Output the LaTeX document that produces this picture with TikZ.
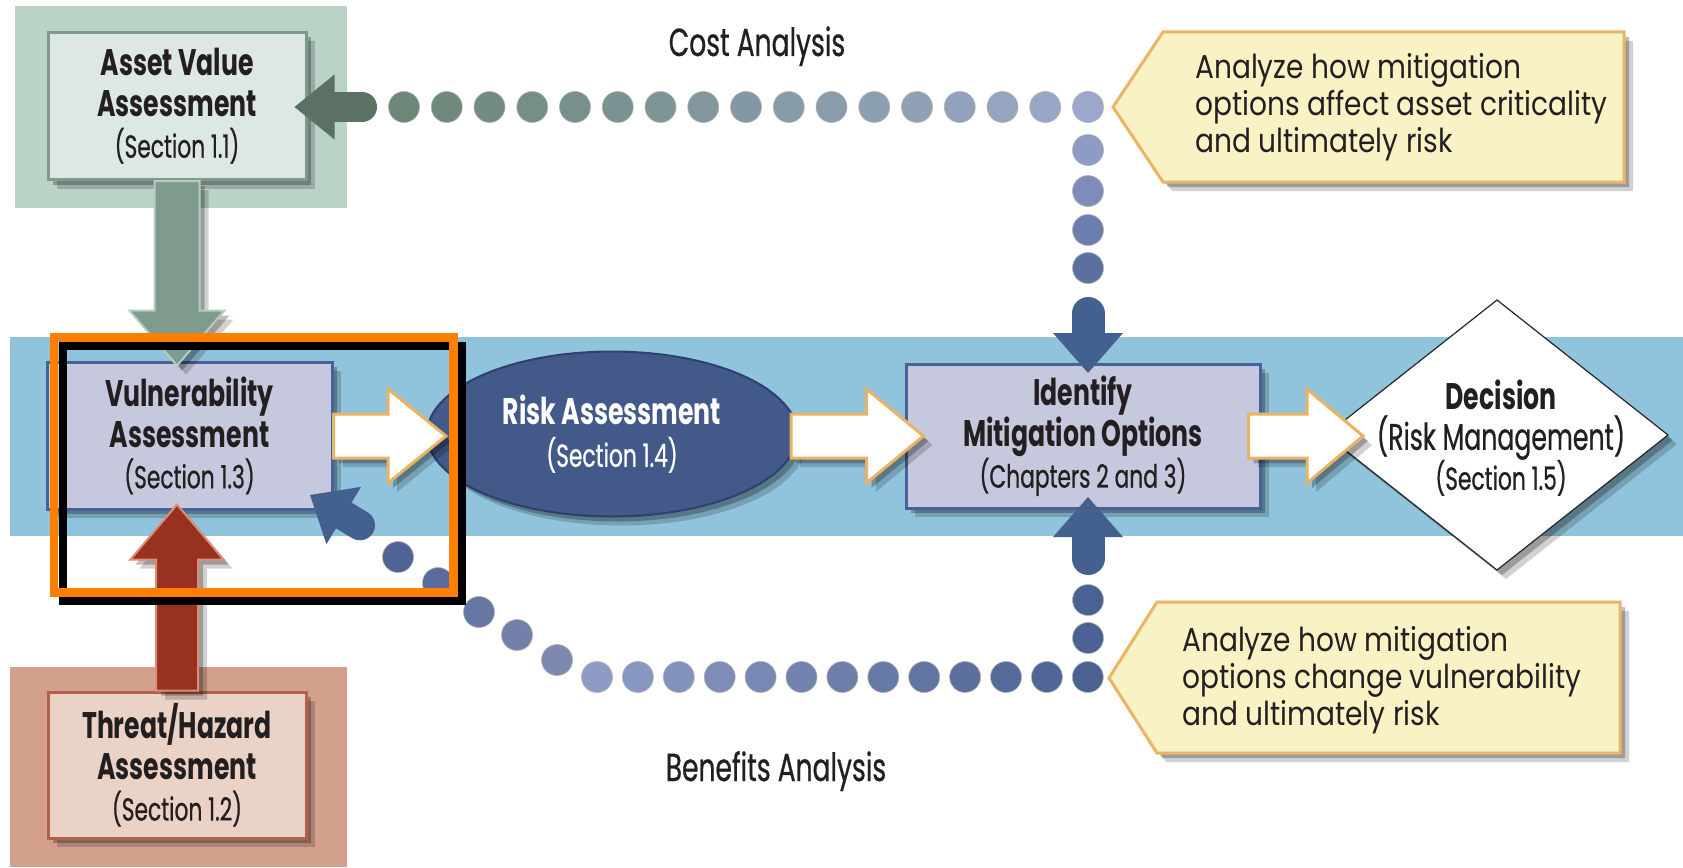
\documentclass[tikz,border=0pt]{standalone}
\usepackage{fontspec}
\setmainfont{Poppins}
\newfontfamily\condfont[FakeStretch=0.68]{Poppins}
\newfontfamily\sectfont[FakeStretch=0.68, FakeBold=0.6]{Poppins}
\newfontfamily\bookfont[FakeStretch=0.85]{Poppins}
\usetikzlibrary{calc,shapes.geometric,shadows}

\definecolor{gbg}{HTML}{B9D4C7}
\definecolor{aboxf}{HTML}{DDE8E6}
\definecolor{aboxd}{HTML}{7D9A8C}
\definecolor{garrf}{HTML}{7F9B8E}
\definecolor{garrd}{HTML}{B3CDC1}
\definecolor{tbg}{HTML}{D2A08C}
\definecolor{tboxf}{HTML}{EBD2C6}
\definecolor{tboxd}{HTML}{B4614B}
\definecolor{rarrf}{HTML}{98311F}
\definecolor{rarrd}{HTML}{D88F74}
\definecolor{band}{HTML}{90C4DC}
\definecolor{vboxf}{HTML}{C6C9DE}
\definecolor{vboxd}{HTML}{45629C}
\definecolor{ellf}{HTML}{43598A}
\definecolor{elld}{HTML}{2E416C}
\definecolor{warrd}{HTML}{EAB263}
\definecolor{callf}{HTML}{F8F2C5}
\definecolor{calld}{HTML}{EBB565}
\definecolor{dblue}{HTML}{44608F}
\definecolor{costg}{HTML}{5A7163}
\definecolor{rowA}{HTML}{6C8878}
\definecolor{rowB}{HTML}{9BA8CC}
\definecolor{vcA}{HTML}{8D9BC5}
\definecolor{vcB}{HTML}{5B6FA1}
\definecolor{brA}{HTML}{8E9CC5}
\definecolor{brB}{HTML}{4A6192}
\definecolor{dgA}{HTML}{4F6396}
\definecolor{dgB}{HTML}{7D89B0}
\definecolor{frameorange}{HTML}{FF8000}
\definecolor{txt}{HTML}{231F20}

\tikzset{
  shad/.style={drop shadow={shadow xshift=5pt, shadow yshift=-5pt, opacity=0.25, fill=black},
               drop shadow={shadow xshift=9pt, shadow yshift=-9pt, opacity=0.18, fill=black}},
  box/.style={rectangle, line width=3, inner sep=0, shad, align=center, text=txt,
              font=\condfont\fontsize{37}{41}\selectfont},
  warrow/.style={fill=white, draw=warrd, line width=3, line join=miter, shad},
  garrow/.style={fill=garrf, draw=garrd, line width=2, shad},
  rarrow/.style={fill=rarrf, draw=rarrd, line width=2, shad},
  callout/.style={fill=callf, draw=calld, line width=3, shad},
  ctext/.style={font=\bookfont\fontsize{33}{37}\selectfont, align=left, text=txt, inner sep=0},
  lbl/.style={font=\sectfont\fontsize{39}{44}\selectfont, text=txt, inner sep=0},
  dot/.style={draw=black!30, line width=0.6},
}
\newcommand\sect[1]{{\sectfont\fontsize{32}{37}\selectfont #1}}
% block arrow: style, tail, tip, shaft half width, head half width, head length
\newcommand\fatarrow[6]{%
  \coordinate (fab) at ($(#3)!#6!(#2)$);
  \path[#1] ($(#2)!#4!90:(#3)$) -- ($(fab)!#4!90:(#3)$) -- ($(fab)!#5!90:(#3)$)
    -- (#3) -- ($(fab)!#5!-90:(#3)$) -- ($(fab)!#4!-90:(#3)$) -- ($(#2)!#4!-90:(#3)$) -- cycle;}
% rounded-tail arrow: colour, tail, tip, shaft width, head half width, head length
\newcommand\capsarrow[6]{%
  \coordinate (fab) at ($(#3)!#6!(#2)$);
  \draw[color=#1, line width=#4, line cap=round] (#2) -- (fab);
  \fill[color=#1] ($(fab)!#5!90:(#3)$) -- (#3) -- ($(fab)!#5!-90:(#3)$) -- cycle;}

\begin{document}
\begin{tikzpicture}[x=1pt,y=-1pt]
\useasboundingbox (0,0) rectangle (1683,867);
\fill[white] (0,0) rectangle (1683,867);

% backgrounds
\fill[gbg] (15,6) rectangle (347,208);
\fill[tbg] (10,667) rectangle (347,867);
\fill[band] (10,337) rectangle (1683,536);

% labels
\node[lbl, anchor=base] (cost) at (757,56) {Cost Analysis};
\node[lbl, anchor=base] (benefit) at (776,781) {Benefits Analysis};

% main nodes
\node[box, fill=aboxf, draw=aboxd, minimum width=258, minimum height=147] (asset) at (177,106)
  {\bfseries Asset Value\\\bfseries Assessment\\\sect{(Section 1.1)}};
\node[box, fill=tboxf, draw=tboxd, minimum width=258, minimum height=146] (threat) at (177,765)
  {\bfseries Threat/Hazard\\\bfseries Assessment\\\sect{(Section 1.2)}};
\node[box, fill=vboxf, draw=vboxd, minimum width=285, minimum height=147] (vuln) at (189.5,435.5)
  {\bfseries Vulnerability\\\bfseries Assessment\\\sect{(Section 1.3)}};
\node[ellipse, fill=ellf, draw=elld, line width=2, minimum width=370, minimum height=165, inner sep=0,
      shad, align=center, text=white, font=\condfont\fontsize{37}{42}\selectfont] (risk) at (612,434)
  {\bfseries Risk Assessment\\\sect{(Section 1.4)}};
\node[box, fill=vboxf, draw=vboxd, minimum width=354, minimum height=144] (ident) at (1083,436)
  {\bfseries Identify\\\bfseries Mitigation Options\\\sect{(Chapters 2 and 3)}};

% decision diamond
\coordinate (dleft) at (1326,435);
\coordinate (dtop) at (1497,300);
\coordinate (dright) at (1668,435);
\coordinate (dbottom) at (1497,570);
\path[fill=white, draw=black!85, line width=1.2, shad] (dleft) -- (dtop) -- (dright) -- (dbottom) -- cycle;
\node[align=center, text=txt, inner sep=0, font=\condfont\fontsize{37}{40}\selectfont] (decision) at (1501,438)
  {\bfseries Decision\\{\sectfont (Risk Management)}\\\sect{(Section 1.5)}};

% white flow arrows
\coordinate (t1) at ($(risk.west)+(20,2)$);
\coordinate (s1) at (vuln.east |- t1);
\fatarrow{warrow}{s1}{t1}{22pt}{47pt}{58pt}
\coordinate (t2) at ($(ident.west)+(19,0)$);
\coordinate (s2) at ($(risk.east)+(-7,2)$);
\fatarrow{warrow}{s2}{t2}{22pt}{47pt}{57pt}
\coordinate (t3) at ($(dleft)+(37,1)$);
\coordinate (s3) at ($(ident.east)+(-13,0)$);
\fatarrow{warrow}{s3}{t3}{22pt}{47pt}{56pt}

% asset -> vulnerability, threat -> vulnerability
\coordinate (gtip) at ($(asset.south |- vuln.north)+(0,5)$);
\fatarrow{garrow}{asset.south}{gtip}{22.5pt}{47.5pt}{55pt}
\coordinate (rtip) at ($(threat.north |- vuln.south)+(0,-6)$);
\fatarrow{rarrow}{threat.north}{rtip}{21pt}{46.5pt}{55pt}

% cost analysis chain
\coordinate (ctail) at (362,107);
\coordinate (ctip) at ($(asset.east)+(-13,1)$);
\capsarrow{costg}{ctail}{ctip}{30pt}{32.5pt}{40pt}
\foreach \i in {0,...,16} {
  \pgfmathsetmacro\p{\i*100/16}
  \pgfmathsetmacro\xx{404+\i*42.75}
  \filldraw[dot, fill={rowB!\p!rowA}] (\xx,107) circle[radius=15.5];
}
\foreach \yy/\p in {150/0,191/33,230/67,268/100} {
  \filldraw[dot, fill={vcB!\p!vcA}] (1088,\yy) circle[radius=15.5];
}
\coordinate (dtail) at (1088,313.5);
\coordinate (dtipc) at (1088,373);
\capsarrow{dblue}{dtail}{dtipc}{33pt}{35pt}{40pt}

% benefits analysis chain
\foreach \k in {0,...,12} {
  \pgfmathsetmacro\p{\k*100/12}
  \pgfmathsetmacro\xx{597+\k*40.9}
  \filldraw[dot, fill={brB!\p!brA}] (\xx,677) circle[radius=15.5];
}
\foreach \yy in {638,600} {
  \filldraw[dot, fill=brB] (1088,\yy) circle[radius=15.5];
}
\coordinate (utail) at (1088,558.5);
\coordinate (utip) at (1088,497);
\capsarrow{dblue}{utail}{utip}{33pt}{35pt}{40pt}
\foreach \xx/\yy/\p in {557/660/100,517/635/75,479/612/50,438/583/25,398/557/0} {
  \filldraw[dot, fill={dgB!\p!dgA}] (\xx,\yy) circle[radius=15.5];
}
\coordinate (vtail) at (360,525.3);
\coordinate (vtip) at (310,495);
\capsarrow{dblue}{vtail}{vtip}{30pt}{33.5pt}{39.5pt}

% callouts
\path[callout] (1113,107) -- (1163,32) -- (1624,32) -- (1624,182) -- (1163,182) -- cycle;
\node[ctext, anchor=west] (call1) at (1195,107)
  {Analyze how mitigation\\options affect asset criticality\\and ultimately risk};
\path[callout] (1109,678) -- (1157,602) -- (1620,602) -- (1620,753) -- (1157,753) -- cycle;
\node[ctext, anchor=west] (call2) at (1182,680)
  {Analyze how mitigation\\options change vulnerability\\and ultimately risk};

% highlight frames
\draw[black, line width=8] (62.5,346) rectangle (461.5,601);
\draw[frameorange, line width=8.5] (54,337.5) rectangle (453.5,592.5);
\end{tikzpicture}
\end{document}
